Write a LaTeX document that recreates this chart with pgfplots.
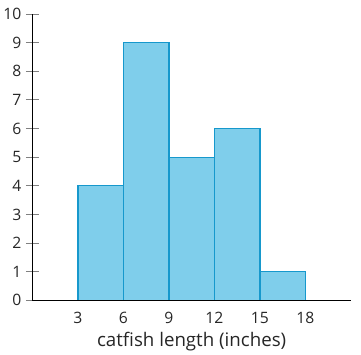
\documentclass[border=0pt]{standalone}
\usepackage{fontspec}
\setmainfont{Open Sans}
\usepackage{pgfplots}
\pgfplotsset{compat=1.18}
\definecolor{barfill}{RGB}{127,206,235}
\definecolor{baredge}{RGB}{22,152,204}
\begin{document}
\begin{tikzpicture}
\begin{axis}[
  scale only axis,
  width=315pt, height=283pt,
  xmin=0, xmax=21, ymin=0, ymax=10,
  axis lines=left,
  axis line style={-, black, line width=1.2pt},
  xtick={3,6,9,12,15,18},
  ytick={0,1,...,10},
  xtick style={draw=none},
  ytick style={draw=gray, line width=1pt},
  tick align=center,
  major tick length=13pt,
  /pgf/number format/assume math mode=true,
  tick label style={font=\fontsize{15.5}{18}\selectfont, text=black!85},
  xticklabel style={yshift=-2pt},
  yticklabel style={xshift=-1pt},
  xlabel={catfish length (inches)},
  xlabel style={font=\fontsize{18.5}{21}\selectfont, text=black!85, yshift=-1pt},
  axis on top,
  clip=false,
]
\addplot[ybar interval, fill=barfill, draw=baredge, line width=1.3pt]
  coordinates {(3,4) (6,9) (9,5) (12,6) (15,1) (18,1)};
\path (rel axis cs:1,0) ++(10pt,0);
\path (rel axis cs:0,1) ++(0,14pt);
\end{axis}
\end{tikzpicture}
\end{document}
